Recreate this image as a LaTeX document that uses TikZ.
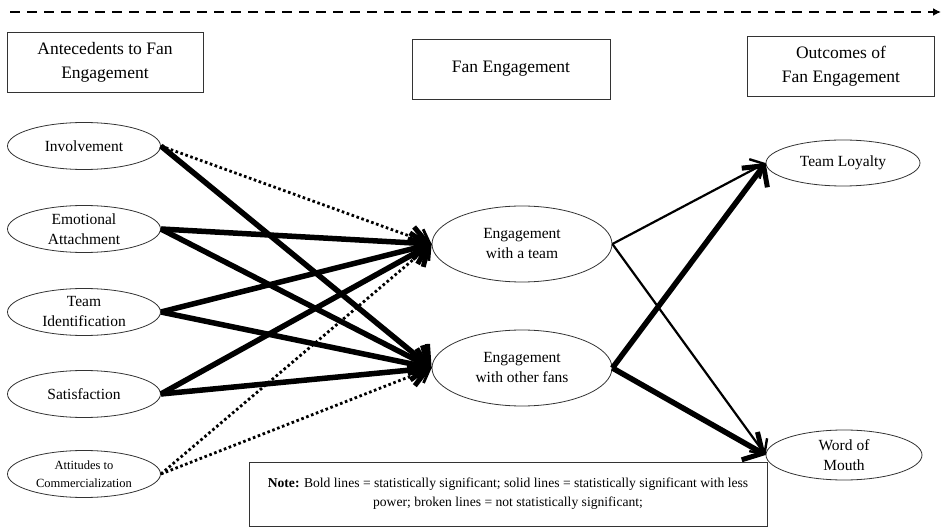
\documentclass[tikz,border=0pt]{standalone}
\usepackage{fontspec}
\setmainfont{Liberation Serif}
\usetikzlibrary{arrows.meta,shapes.geometric}
\begin{document}
\begin{tikzpicture}[x=1pt,y=-1pt,
  hdr/.style={draw=black!80, line width=0.8pt, minimum width=196pt, minimum height=60pt, align=center, font=\fontsize{17.5}{24}\selectfont},
  oval/.style={draw=black!80, line width=0.8pt, shape=ellipse, minimum width=153pt, minimum height=47pt, inner sep=0pt, align=center, font=\fontsize{15.5}{20}\selectfont},
  midoval/.style={oval, minimum width=180pt, minimum height=76pt},
  smalloval/.style={oval, font=\fontsize{12.5}{18}\selectfont},
  boldarr/.style={line width=5.5pt, -{Straight Barb[length=15pt,width=32pt,line width=5pt]}},
  thinarr/.style={line width=2.2pt, -{Straight Barb[length=11pt,width=22pt,line width=2.4pt]}},
  dotarr/.style={line width=2.8pt, dash pattern=on 2.6pt off 2.6pt, -{Straight Barb[length=11pt,width=22pt,line width=2.8pt]}}]
\useasboundingbox (0,0) rectangle (943,529);

% time line across the top
\coordinate (tl0) at (10,12);
\coordinate (tl1) at (941,12);
\draw[line width=2.6pt, dash pattern=on 10pt off 7pt, -{Latex[length=8pt,width=8pt]}] (tl0) -- (tl1);

% column headings
\node[hdr] (h1) at (105,62) {Antecedents to Fan\\Engagement};
\node[hdr, minimum width=198pt] (h2) at (511,69) {Fan Engagement};
\node[hdr, minimum width=187pt] (h3) at (841,66) {Outcomes of\\Fan Engagement};

% antecedents
\node[oval] (inv) at (84,146) {Involvement};
\node[oval] (emo) at (84,229) {Emotional\\Attachment};
\node[oval] (tid) at (84,312) {Team\\Identification};
\node[oval] (sat) at (84,394) {Satisfaction};
\node[smalloval] (att) at (84,474) {Attitudes to\\Commercialization};

% engagement
\node[midoval] (team) at (522,244) {Engagement\\with a team};
\node[midoval] (fans) at (522,368) {Engagement\\with other fans};

% outcomes
\node[oval, minimum width=154pt, minimum height=46pt] (loy) at (843,163) {Team Loyalty};
\node[oval, minimum width=156pt, minimum height=50pt] (wom) at (844,455) {Word of\\Mouth};

% end points on the engagement ovals
\coordinate (teamin) at (team.west);
\coordinate (fansin) at (fans.west);

% paths into engagement
\draw[dotarr] (inv.east) -- (teamin);
\draw[boldarr] (inv.east) -- (fansin);
\draw[boldarr] (emo.east) -- (teamin);
\draw[boldarr] (emo.east) -- (fansin);
\draw[boldarr] (tid.east) -- (teamin);
\draw[boldarr] (tid.east) -- (fansin);
\draw[boldarr] (sat.east) -- (teamin);
\draw[boldarr] (sat.east) -- (fansin);
\draw[dotarr] (att.east) -- (teamin);
\draw[dotarr] (att.east) -- (fansin);

% paths to outcomes
\draw[thinarr] (team.east) -- (loy.west);
\draw[thinarr] (team.east) -- (wom.west);
\draw[boldarr] (fans.east) -- (loy.west);
\draw[boldarr] (fans.east) -- (wom.west);

% legend
\node[draw=black!80, line width=0.8pt, minimum width=518pt, minimum height=64pt, align=center, font=\fontsize{13.6}{19}\selectfont] (note) at (508,494)
  {\textbf{Note:} Bold lines = statistically significant; solid lines = statistically significant with less\\power; broken lines = not statistically significant;};
\end{tikzpicture}
\end{document}
